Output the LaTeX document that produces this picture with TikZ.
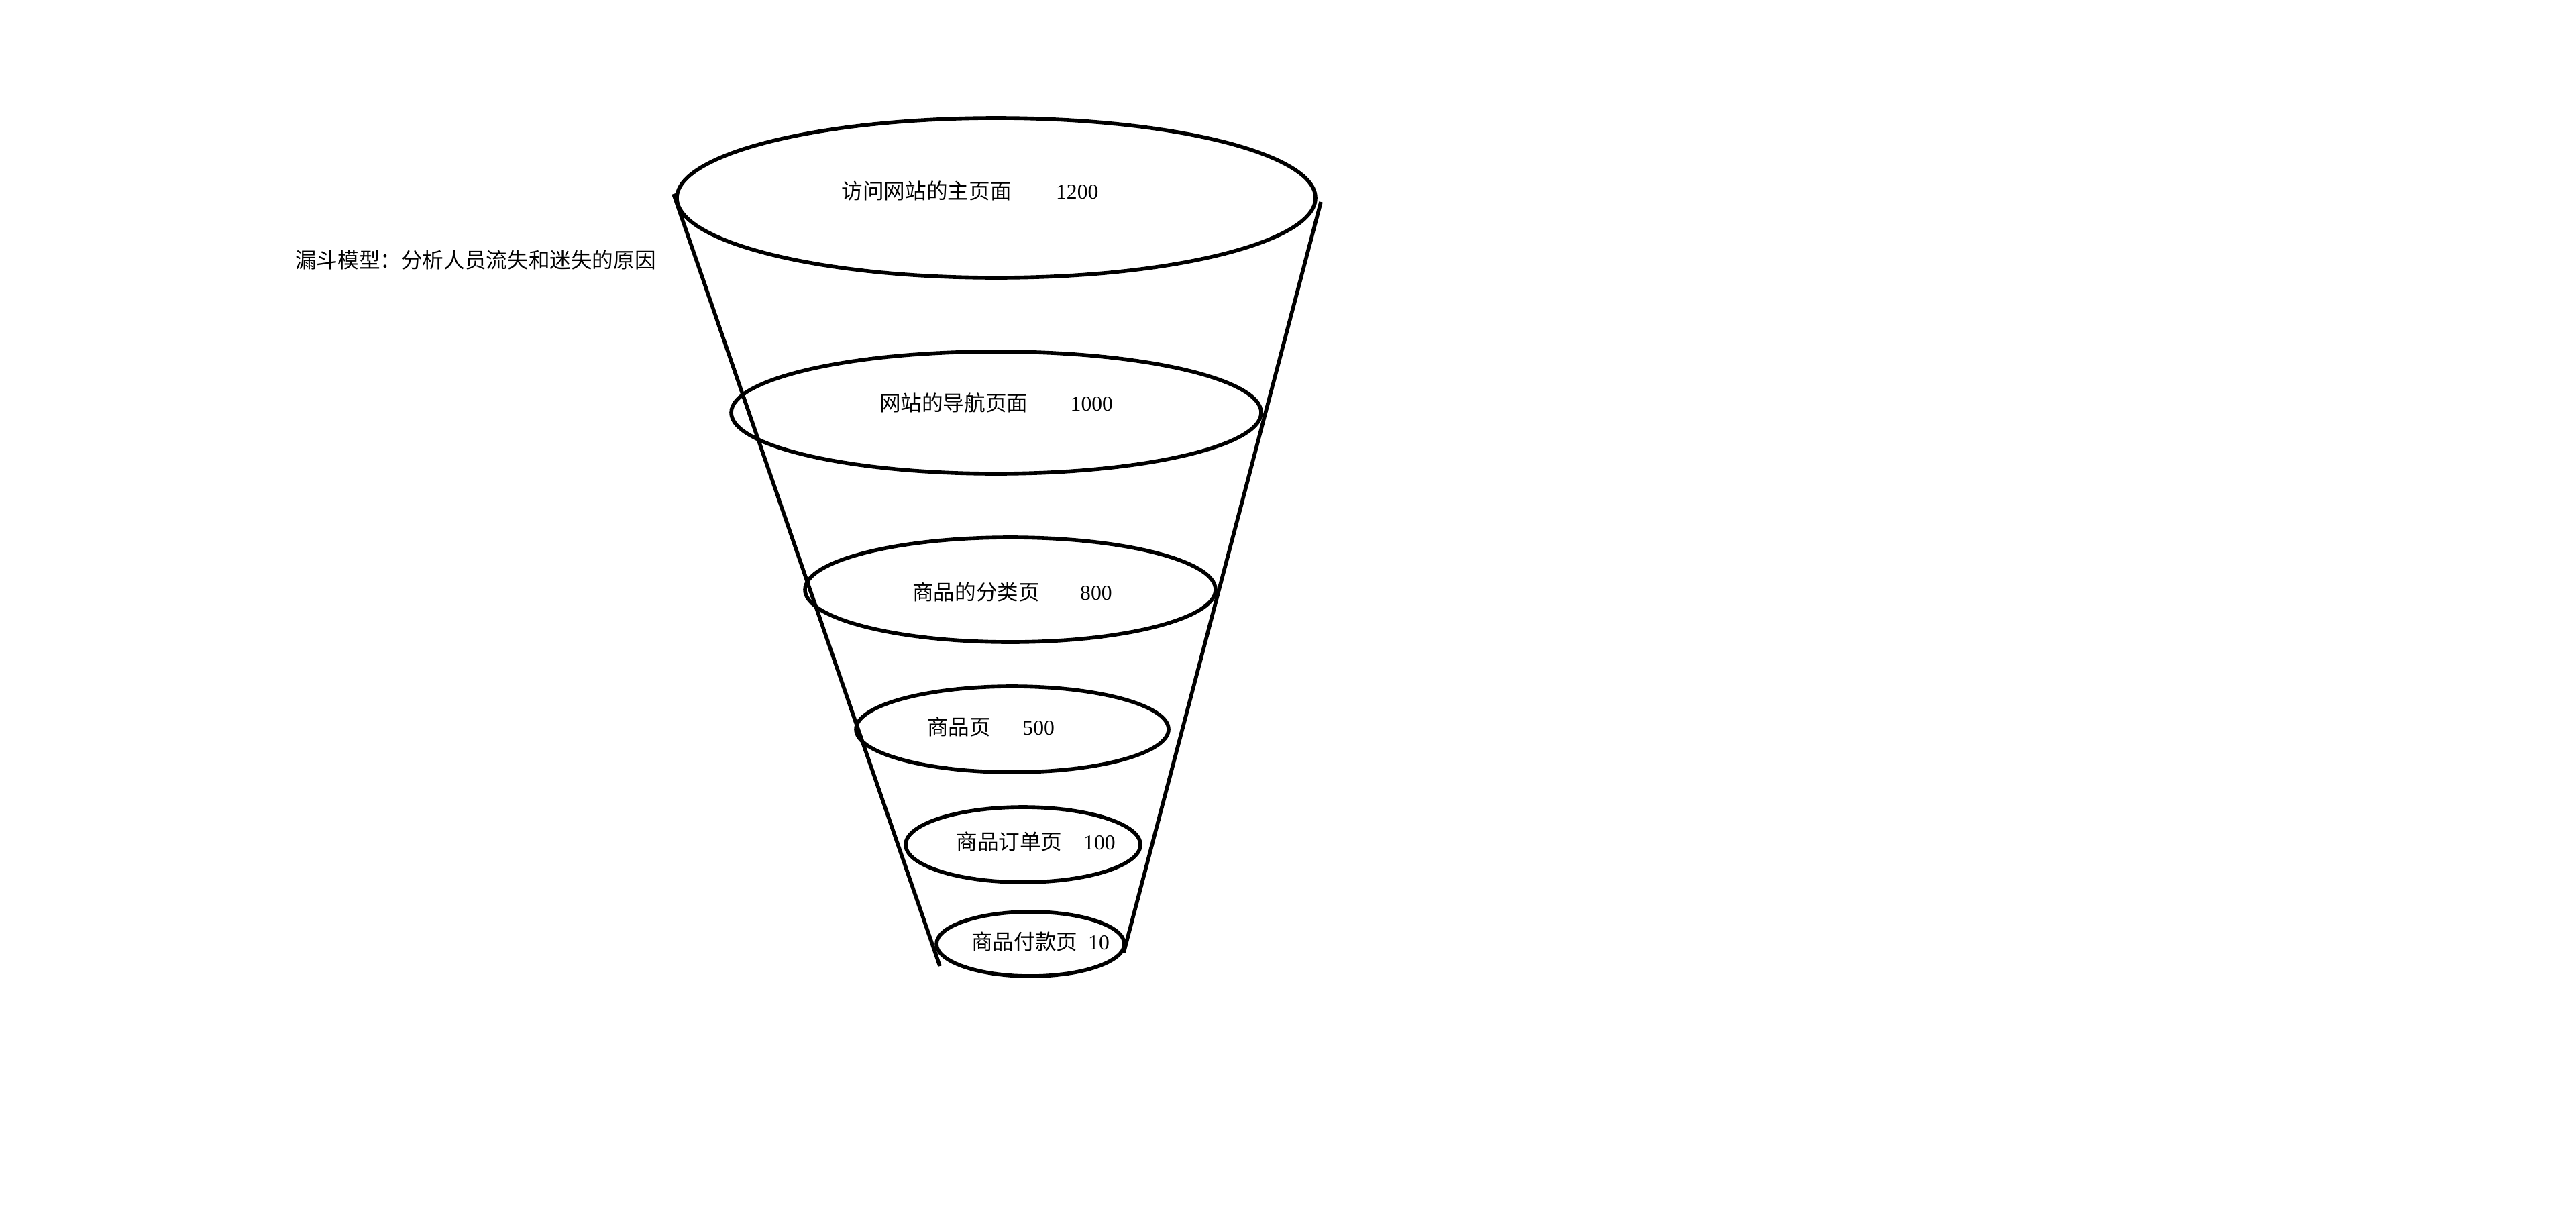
\documentclass[tikz,border=0pt]{standalone}
\usepackage{fontspec}
\setmainfont{Liberation Serif}
\newfontfamily\cjk{Noto Sans CJK SC}
\tikzset{
  rim/.style={line width=1.6pt},
  label/.style={inner sep=0pt, font=\fontsize{9}{11}\selectfont}
}
\begin{document}
\begin{tikzpicture}
  \useasboundingbox[fill=white] (0,0) rectangle (38.4,-18.04);

  % title
  \node[label] (title) at (7.09,-3.87) {\cjk 漏斗模型：分析人员流失和迷失的原因};

  % funnel sides
  \coordinate (lt) at (10.04,-2.89);
  \coordinate (lb) at (14.01,-14.40);
  \coordinate (rt) at (19.69,-3.01);
  \coordinate (rb) at (16.75,-14.20);
  \draw[rim] (lt) -- (lb);
  \draw[rim] (rt) -- (rb);

  % stages
  \draw[rim] (14.85,-2.95) ellipse (4.76 and 1.19);
  \draw[rim] (14.85,-6.15) ellipse (3.95 and 0.91);
  \draw[rim] (15.06,-8.79) ellipse (3.06 and 0.78);
  \draw[rim] (15.09,-10.87) ellipse (2.33 and 0.64);
  \draw[rim] (15.25,-12.59) ellipse (1.75 and 0.56);
  \draw[rim] (15.36,-14.07) ellipse (1.40 and 0.48);

  % labels
  \node[label] (home) at (14.46,-2.84) {{\cjk 访问网站的主页面}\hspace{2.1em}1200};
  \node[label] (nav) at (14.85,-6.00) {{\cjk 网站的导航页面}\hspace{2em}1000};
  \node[label] (cat) at (15.09,-8.82) {{\cjk 商品的分类页}\hspace{1.9em}800};
  \node[label] (item) at (14.77,-10.83) {{\cjk 商品页}\hspace{1.5em}500};
  \node[label] (order) at (15.44,-12.54) {{\cjk 商品订单页}\hspace{1em}100};
  \node[label] (pay) at (15.51,-14.03) {{\cjk 商品付款页}\hspace{0.5em}10};
\end{tikzpicture}
\end{document}
